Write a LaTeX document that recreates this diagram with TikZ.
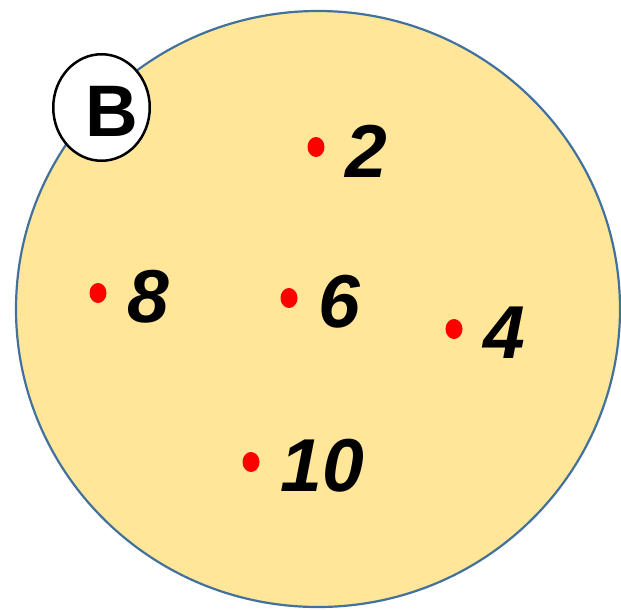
\documentclass[tikz,border=0pt]{standalone}
\usepackage{fontspec}
\setmainfont{Liberation Sans}
\usetikzlibrary{shapes.geometric,positioning}
\definecolor{setfill}{HTML}{FFE699}
\definecolor{setline}{HTML}{41719C}

\begin{document}
\begin{tikzpicture}[
    x=1pt, y=-1pt,
    node distance=21pt,
    setbox/.style={ellipse, draw=setline, fill=setfill, line width=2.2pt, minimum width=604pt, minimum height=596pt, inner sep=0pt},
    tagbox/.style={ellipse, draw=black, fill=white, line width=2.5pt, minimum width=96.5pt, minimum height=106.5pt, inner sep=0pt},
    tagtxt/.style={font=\fontsize{73}{73}\selectfont\bfseries, inner sep=0pt},
    dotmark/.style={ellipse, fill=red, minimum width=17pt, minimum height=20pt, inner sep=0pt},
    numlbl/.style={font=\fontsize{75}{75}\selectfont\bfseries\itshape, inner sep=0pt, yshift=-4pt}
]
    \useasboundingbox (0,0) rectangle (621,610);

    % the set and its tag
    \node [setbox] (setB) at (318,309) {};
    \node [tagbox] (tagB) at (101.5,107.5) {};
    \node [tagtxt] (tagBtxt) at (111.5,111) {B};

    % elements
    \node [dotmark] (d2) at (316,147) {};
    \node [dotmark] (d8) at (98,293) {};
    \node [dotmark] (d6) at (289,298) {};
    \node [dotmark] (d4) at (454,329) {};
    \node [dotmark] (d10) at (251,462) {};

    \node [numlbl, right=of d2] (l2) {2};
    \node [numlbl, right=of d8] (l8) {8};
    \node [numlbl, right=of d6] (l6) {6};
    \node [numlbl, right=of d4] (l4) {4};
    \node [numlbl, right=of d10] (l10) {10};
\end{tikzpicture}
\end{document}
